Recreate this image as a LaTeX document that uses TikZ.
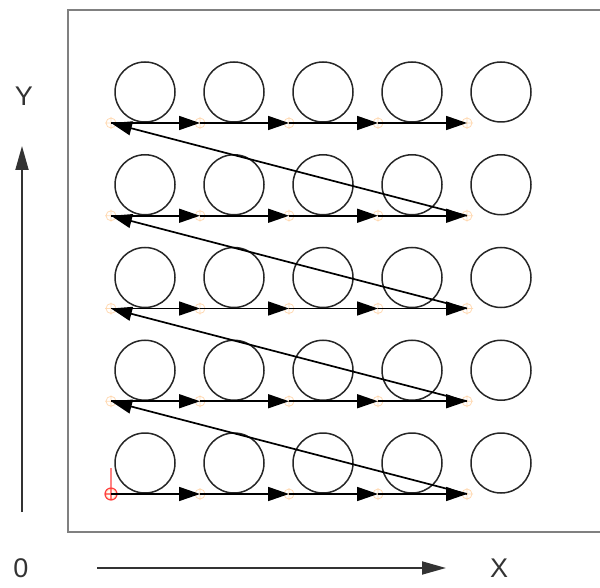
\documentclass[tikz,border=0pt]{standalone}
\usepackage{fontspec}
\setmainfont{Liberation Sans}
\usetikzlibrary{arrows.meta}
\begin{document}
\begin{tikzpicture}[x=1pt,y=-1pt,
  frame/.style={draw=black!50,line width=2.6pt},
  hole/.style={circle,draw=black!85,line width=1.5pt,minimum size=60pt,inner sep=0pt},
  pathline/.style={draw=black,line width=1.7pt,-{Triangle[length=21pt,width=14pt]}},
  axisline/.style={draw=black!80,line width=1.8pt,-{Triangle[length=24pt,width=13pt]}},
  marker/.style={draw=orange!30,line width=0.8pt},
  axislabel/.style={text=black!80,font=\fontsize{27}{27}\selectfont,inner sep=0pt}
]
\useasboundingbox (0,0) rectangle (600,588);
% work area frame
\draw[frame] (605,10) -- (68,10) -- (68,532) -- (605,532);

% grid points and holes: row 0 is the bottom row
\foreach \r in {0,...,4}{
  \foreach \c in {0,...,4}{
    \coordinate (p-\r-\c) at ({111+89*\c},{494-92.75*\r});
    \node[hole] (h-\r-\c) at ({145+89*\c},{463-92.75*\r}) {};
    \draw[marker] (p-\r-\c) circle (5pt)
      ([xshift=-6pt]p-\r-\c) -- ([xshift=6pt]p-\r-\c)
      ([yshift=-6pt]p-\r-\c) -- ([yshift=6pt]p-\r-\c);
  }
}

% origin marker
\draw[red!75,line width=1.2pt] (p-0-0) circle (6pt)
  ([xshift=-6pt]p-0-0) -- ([xshift=22pt]p-0-0)
  ([yshift=-6pt]p-0-0) -- ([yshift=26pt]p-0-0);

% tool path: left to right along each row, then back to the start of the next row
\foreach \r in {0,...,4}{
  \foreach \c/\n in {0/1,1/2,2/3,3/4}{
    \draw[pathline] (p-\r-\c) -- (p-\r-\n);
  }
}
\foreach \r/\n in {0/1,1/2,2/3,3/4}{
  \draw[pathline] (p-\r-4) -- (p-\n-0);
}

% axes
\node[axislabel] (ylab) at (24,96) {Y};
\node[axislabel] (orig) at (21,568) {0};
\node[axislabel] (xlab) at (499,568) {X};
\coordinate (ybase) at (22,512);
\coordinate (ytip) at (22,146);
\coordinate (xbase) at (97,568);
\coordinate (xtip) at (446,568);
\draw[axisline] (ybase) -- (ytip);
\draw[axisline] (xbase) -- (xtip);
\end{tikzpicture}
\end{document}
